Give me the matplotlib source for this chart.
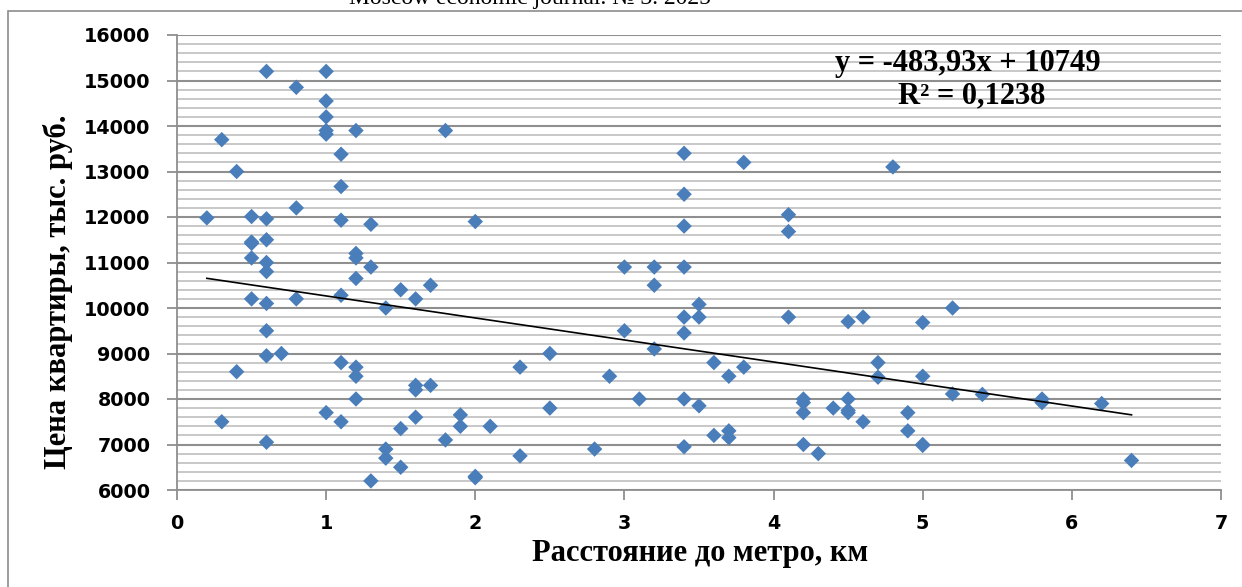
import numpy as np
import matplotlib
matplotlib.use("Agg")
import matplotlib.pyplot as plt
from matplotlib.patches import Rectangle
from matplotlib.ticker import MultipleLocator

# distance to metro, km
distance = [
    0.2, 0.3, 0.3, 0.4, 0.4, 0.5, 0.5, 0.5, 0.5, 0.5,
    0.6, 0.6, 0.6, 0.6, 0.6, 0.6, 0.6, 0.6, 0.6, 0.7,
    0.8, 0.8, 0.8, 1.0, 1.0, 1.0, 1.0, 1.0, 1.0, 1.1,
    1.1, 1.1, 1.1, 1.1, 1.1, 1.2, 1.2, 1.2, 1.2, 1.2,
    1.2, 1.2, 1.3, 1.3, 1.3, 1.4, 1.4, 1.4, 1.5, 1.5,
    1.5, 1.6, 1.6, 1.6, 1.6, 1.7, 1.7, 1.8, 1.8, 1.9,
    1.9, 2.0, 2.0, 2.0, 2.1, 2.3, 2.3, 2.5, 2.5, 2.8,
    2.9, 3.0, 3.0, 3.1, 3.2, 3.2, 3.2, 3.4, 3.4, 3.4,
    3.4, 3.4, 3.4, 3.4, 3.4, 3.5, 3.5, 3.5, 3.6, 3.6,
    3.7, 3.7, 3.7, 3.8, 3.8, 4.1, 4.1, 4.1, 4.2, 4.2,
    4.2, 4.2, 4.3, 4.4, 4.5, 4.5, 4.5, 4.5, 4.6, 4.6,
    4.7, 4.7, 4.8, 4.9, 4.9, 5.0, 5.0, 5.0, 5.0, 5.2,
    5.2, 5.4, 5.8, 5.8, 6.2, 6.4,
]
# flat price, thousand rub
price = [
    11980, 13700, 7500, 13000, 8600, 12010, 11450, 11420, 11100, 10200,
    15200, 11960, 11500, 11000, 10800, 10100, 9500, 8950, 7050, 9000,
    14850, 12200, 10200, 15200, 14550, 14200, 13900, 13820, 7700, 13380,
    12670, 11930, 10280, 8800, 7500, 13900, 11200, 11100, 10650, 8700,
    8500, 8000, 11840, 10900, 6200, 10000, 6900, 6700, 10400, 7350,
    6500, 10200, 8300, 8200, 7600, 10500, 8300, 13900, 7100, 7650,
    7400, 11900, 6300, 6270, 7400, 8700, 6750, 9000, 7800, 6900,
    8500, 10900, 9500, 8000, 10900, 10500, 9100, 13400, 12500, 11800,
    10900, 9800, 9450, 8000, 6950, 10080, 9800, 7850, 8800, 7200,
    8500, 7300, 7150, 13200, 8700, 12050, 11680, 9800, 8000, 7920,
    7700, 7000, 6800, 7800, 9700, 8000, 7750, 7700, 9800, 7500,
    8800, 8480, 13100, 7700, 7300, 9680, 8500, 7000, 6980, 10000,
    8110, 8100, 8000, 7920, 7900, 6650,
]
# linear trend as printed on the chart
slope = -483.93
intercept = 10749
equation = "y = -483,93x + 10749"
r2_text = "R² = 0,1238"

W, H = 1242, 587
fig = plt.figure(figsize=(W / 100, H / 100), dpi=100)
fig.patch.set_facecolor("white")

# chart frame (extends beyond the cropped picture)
fig.patches.append(Rectangle((8 / W, -0.1), 1.2, 1.1 - 11 / H, transform=fig.transFigure,
                             fill=False, edgecolor="#8c8c8c", linewidth=1.2, zorder=0))
# journal header, cut off at the top as in the page scan
fig.text(530 / W, 1 - 4 / H, "Moscow economic journal. № 3. 2025", ha="center", va="baseline",
         fontsize=17, family="Liberation Serif", color="black")

ax = fig.add_axes([177 / W, 1 - 490 / H, (1221 - 177) / W, (490 - 35) / H])
ax.set_xlim(0, 7)
ax.set_ylim(6000, 16000)

ax.yaxis.set_major_locator(MultipleLocator(1000))
ax.yaxis.set_minor_locator(MultipleLocator(200))
ax.xaxis.set_major_locator(MultipleLocator(1))
ax.grid(which="minor", axis="y", color="#c4c4c4", linewidth=1.3)
ax.grid(which="major", axis="y", color="#8f8f8f", linewidth=1.5)
ax.set_axisbelow(True)

for s in ["top", "right"]:
    ax.spines[s].set_visible(False)
for s in ["left", "bottom"]:
    ax.spines[s].set_color("#8f8f8f")
    ax.spines[s].set_linewidth(1.3)
ax.tick_params(which="major", direction="out", length=7, width=1.3, color="#8f8f8f",
               labelsize=13.8)
ax.tick_params(axis="y", pad=12)
ax.tick_params(axis="x", pad=10)
ax.tick_params(which="minor", length=0)
for lab in ax.get_xticklabels() + ax.get_yticklabels():
    lab.set_fontfamily("DejaVu Sans")
    lab.set_fontweight("bold")

ax.scatter(distance, price, marker="D", s=62, color="#4a7ebb", edgecolors="none", zorder=3)

xs = np.array([min(distance), max(distance)])
ax.plot(xs, slope * xs + intercept, color="black", linewidth=1.2, zorder=4)

fig.text(968 / W, 1 - 64 / H, equation, ha="center", va="center", fontsize=22,
         family="Liberation Serif", fontweight="bold")
fig.text(972 / W, 1 - 96 / H, r2_text, ha="center", va="center", fontsize=22,
         family="Liberation Serif", fontweight="bold")

fig.text(700 / W, 1 - 553 / H, "Расстояние до метро, км", ha="center", va="center",
         fontsize=22, family="Liberation Serif", fontweight="bold")
fig.text(58 / W, 1 - 292 / H, "Цена квартиры, тыс. руб.", ha="center", va="center",
         rotation=90, fontsize=22, family="Liberation Serif", fontweight="bold")

fig.savefig("out.png", dpi=100)
